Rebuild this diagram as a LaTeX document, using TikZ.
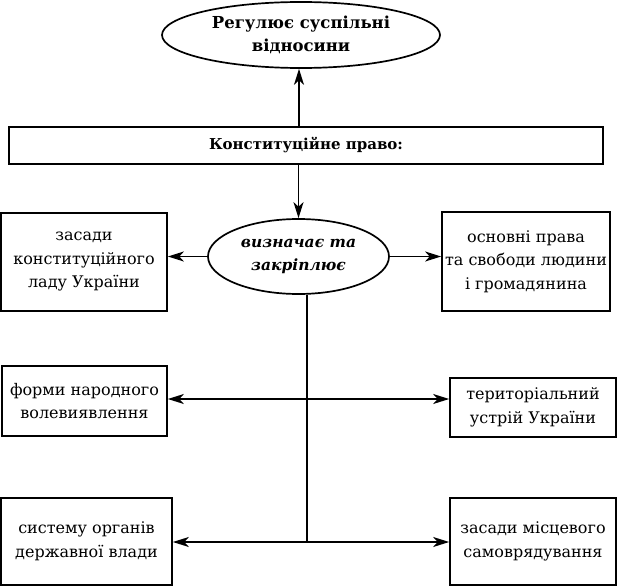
\documentclass[tikz,border=0pt]{standalone}
\usepackage{fontspec}
\setmainfont{DejaVu Serif}
\usetikzlibrary{shapes.geometric,arrows.meta}
\begin{document}
\begin{tikzpicture}[x=1pt,y=-1pt,
  every node/.style={font=\fontsize{16}{23.5}\selectfont, align=center, inner sep=0pt},
  box/.style={draw, line width=1.7pt, rectangle},
  oval/.style={draw, line width=1.7pt, ellipse},
  conn/.style={line width=1.7pt},
  tip/.tip={Stealth[length=16pt,width=10pt,inset=4.5pt]},
  arr/.style={conn, -tip},
  arrs/.style={conn, tip-tip}]
\useasboundingbox (0,0) rectangle (619,586);
\node[oval, minimum width=278, minimum height=66, font=\fontsize{16.5}{23.5}\selectfont\bfseries] (reg) at (301,35) {Регулює суспільні\\відносини};
\node[box, minimum width=594, minimum height=37, font=\fontsize{15}{23.5}\selectfont\bfseries] (konst) at (306,145.5) {Конституційне право:};
\node[oval, minimum width=181, minimum height=75, font=\fontsize{15.5}{23.5}\selectfont\bfseries\itshape] (vyzn) at (298.5,256.5) {визначає та\\закріплює};
\node[box, minimum width=166, minimum height=98] (b1l) at (84,262) {засади\\конституційного\\ладу України};
\node[box, minimum width=168, minimum height=99] (b1r) at (526,261.5) {основні права\\та свободи людини\\і громадянина};
\node[box, minimum width=165, minimum height=70] (b2l) at (84.5,401) {форми народного\\волевиявлення};
\node[box, minimum width=166, minimum height=59] (b2r) at (533,407.5) {територіальний\\устрій України};
\node[box, minimum width=171, minimum height=87] (b3l) at (86.5,541.5) {систему органів\\державної влади};
\node[box, minimum width=166, minimum height=87] (b3r) at (533,541.5) {засади місцевого\\самоврядування};
\coordinate (r2) at (307,399);
\coordinate (j) at (307,542);
\draw[arr] (konst.north -| 299,0) -- (reg.south -| 299,0);
\draw[arr] (konst.south -| vyzn.north) -- (vyzn.north);
\draw[arr] (vyzn.west) -- (b1l.east |- vyzn.west);
\draw[arr] (vyzn.east) -- (b1r.west |- vyzn.east);
\draw[conn] (vyzn.south -| j) -- (j);
\draw[arrs] (b2l.east |- r2) -- (b2r.west |- r2);
\draw[arrs] (b3l.east |- j) -- (b3r.west |- j);
\end{tikzpicture}
\end{document}
